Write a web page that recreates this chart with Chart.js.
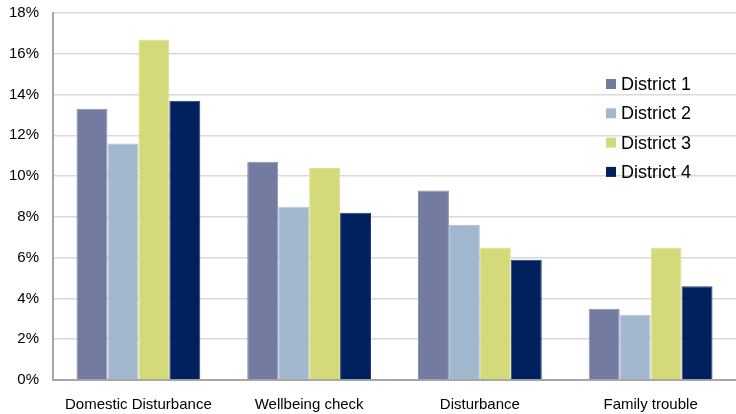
<!DOCTYPE html>
<html>
<head>
<meta charset="utf-8">
<script src="https://cdn.jsdelivr.net/npm/chart.js@4/dist/chart.umd.min.js"></script>
<style>
  html, body { margin: 0; padding: 0; background: #ffffff; }
  #wrap { width: 736px; height: 414px; position: relative; }
</style>
</head>
<body>
<div id="wrap"><canvas id="c"></canvas></div>
<script>
// Call types and share of calls per district (percent)
const categories = ['Domestic Disturbance', 'Wellbeing check', 'Disturbance', 'Family trouble'];
const district1 = [13.3, 10.7, 9.3, 3.5];
const district2 = [11.6, 8.5, 7.6, 3.2];
const district3 = [16.7, 10.4, 6.5, 6.5];
const district4 = [13.7, 8.2, 5.9, 4.6];
const seriesNames = ['District 1', 'District 2', 'District 3', 'District 4'];
const yTicks = [0, 2, 4, 6, 8, 10, 12, 14, 16, 18];

const colors = ['#737ba0', '#a2b8cf', '#d4da7a', '#00205e'];
const borders = ['#8a92b3', '#b4c6d9', '#dde28f', '#26407a'];
const FONT = '"Liberation Sans", Arial, sans-serif';

const datasets = [district1, district2, district3, district4].map((vals, i) => ({
  label: seriesNames[i],
  data: vals,
  backgroundColor: colors[i],
  borderColor: borders[i],
  borderWidth: { top: 1, left: 1, right: 1, bottom: 0 },
  barPercentage: 1.0,
  categoryPercentage: 0.725
}));

// Legend drawn inside the plot area on the right
const innerLegend = {
  id: 'innerLegend',
  afterDraw(chart) {
    const ctx = chart.ctx;
    ctx.save();
    ctx.font = '18px ' + FONT;
    ctx.textBaseline = 'middle';
    chart.data.datasets.forEach((ds, i) => {
      const y = 85 + i * 29.3;
      ctx.fillStyle = ds.backgroundColor;
      ctx.fillRect(606, y - 6, 10, 10);
      ctx.fillStyle = '#000000';
      ctx.fillText(ds.label, 621, y);
    });
    ctx.restore();
  }
};

new Chart(document.getElementById('c'), {
  type: 'bar',
  data: { labels: categories, datasets },
  plugins: [innerLegend],
  options: {
    responsive: true,
    maintainAspectRatio: false,
    animation: false,
    layout: { padding: { top: 13, right: 0, left: 0, bottom: 0 } },
    plugins: {
      legend: { display: false },
      tooltip: { enabled: false }
    },
    scales: {
      x: {
        grid: { display: false, drawTicks: false },
        border: { display: true, color: '#a6a6a6', width: 2 },
        ticks: { color: '#000000', font: { family: FONT, size: 15 }, padding: 16, maxRotation: 0 },
        afterFit(scale) { scale.height = 34; scale.paddingLeft = 0; scale.paddingRight = 0; }
      },
      y: {
        min: 0,
        max: 18,
        afterBuildTicks(scale) { scale.ticks = yTicks.map(v => ({ value: v })); },
        grid: { color: '#d9d9d9', lineWidth: 1.5, drawTicks: false },
        border: { display: true, color: '#a6a6a6', width: 2 },
        ticks: {
          color: '#000000',
          font: { family: FONT, size: 15 },
          padding: 14,
          callback: v => v + '%'
        },
        afterFit(scale) { scale.width = 53; scale.paddingTop = 0; scale.paddingBottom = 0; }
      }
    }
  }
});
</script>
</body>
</html>
